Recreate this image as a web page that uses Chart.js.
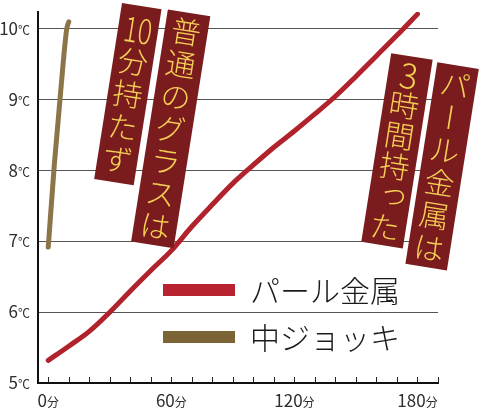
<!DOCTYPE html>
<html lang="ja">
<head>
<meta charset="utf-8">
<title>ビールの温度</title>
<script src="https://cdn.jsdelivr.net/npm/chart.js@4/dist/chart.umd.min.js"></script>
<style>
  html, body { margin: 0; padding: 0; background: #fff; }
  #chart { display: block; }
</style>
</head>
<body>
<canvas id="chart" width="500" height="417"></canvas>
<script>
// values
var pearlMinutes = [0, 10, 20, 30, 40, 50, 60, 70, 80, 90, 100, 110, 120, 130, 140, 150, 160, 170, 180];
var pearlTemps = [5.32, 5.52, 5.73, 6.0, 6.3, 6.59, 6.87, 7.21, 7.52, 7.82, 8.08, 8.33, 8.56, 8.8, 9.05, 9.33, 9.62, 9.91, 10.21];
var jockeyMinutes = [0, 3, 6, 9, 10];
var jockeyTemps = [6.92, 8.1, 9.1, 10.0, 10.1];
var seriesNames = ["パール金属", "中ジョッキ"];

var tempTicks = [5, 6, 7, 8, 9, 10];
var minuteTicks = [0, 10, 20, 30, 40, 50, 60, 70, 80, 90, 100, 110, 120, 130, 140, 150, 160, 170, 180, 190];
var minuteLabels = [0, 60, 120, 180];

// vertical captions, one cell per entry
var noteCells = [
    ["10", "分", "持", "た", "ず"],
    ["普", "通", "の", "グ", "ラ", "ス", "は"],
    ["3", "時", "間", "持", "っ", "た"],
    ["パ", "ー", "ル", "金", "属", "は"]
];

var FONT = "'Noto Sans CJK JP', 'Noto Sans', sans-serif";

function toPoints(xs, ys) {
    return xs.map(function (x, i) { return { x: x, y: ys[i] }; });
}

function drawNumUnit(ctx, num, unit, x, y, align, numSize, unitSize) {
    ctx.font = numSize + "px " + FONT;
    var w1 = ctx.measureText(num).width;
    ctx.font = unitSize + "px " + FONT;
    var w2 = ctx.measureText(unit).width;
    var left = align == "right" ? x - w1 - w2 : x - (w1 + w2) / 2;
    ctx.textAlign = "left";
    ctx.textBaseline = "alphabetic";
    ctx.font = numSize + "px " + FONT;
    ctx.fillText(num, left, y);
    ctx.font = unitSize + "px " + FONT;
    ctx.fillText(unit, left + w1, y);
}

var extrasPlugin = {
    id: "extras",
    afterDatasetsDraw: function (chart, args, opts) {
        var ctx = chart.ctx;
        var xs = chart.scales.x, ys = chart.scales.y;
        var area = chart.chartArea;
        ctx.save();

        // inward ticks on the time axis
        ctx.strokeStyle = "#222";
        ctx.lineWidth = 1;
        minuteTicks.forEach(function (m) {
            var px = Math.round(xs.getPixelForValue(m)) + 0.5;
            ctx.beginPath();
            ctx.moveTo(px, area.bottom);
            ctx.lineTo(px, area.bottom - 6);
            ctx.stroke();
        });

        // axis labels with small units
        ctx.fillStyle = "#2e2e2e";
        minuteLabels.forEach(function (m) {
            drawNumUnit(ctx, String(m), "分", xs.getPixelForValue(m), area.bottom + 24, "center", 17, 12);
        });
        tempTicks.forEach(function (t) {
            drawNumUnit(ctx, String(t), "℃", 30, ys.getPixelForValue(t) + 6, "right", 17, 12);
        });

        // caption boxes
        opts.notes.forEach(function (n, k) {
            var cells = noteCells[k];
            var cx = xs.getPixelForValue(n.x), cy = ys.getPixelForValue(n.y);
            ctx.save();
            ctx.translate(cx, cy);
            ctx.rotate(opts.angle * Math.PI / 180);
            ctx.fillStyle = opts.boxColor;
            ctx.fillRect(-n.w / 2, -n.h / 2, n.w, n.h);
            var step = Math.min(33, (n.h - 6) / cells.length);
            var top = -step * cells.length / 2;
            ctx.fillStyle = opts.textColor;
            ctx.textAlign = "center";
            ctx.textBaseline = "middle";
            cells.forEach(function (c, i) {
                var y = top + step * (i + 0.5);
                if (/^[0-9]+$/.test(c)) {
                    // digits set upright in one cell
                    ctx.save();
                    ctx.translate(0, y);
                    ctx.scale(c.length > 1 ? 0.78 : 1, 1);
                    ctx.font = "300 34px " + FONT;
                    ctx.fillText(c, 0, 1);
                    ctx.restore();
                    return;
                }
                ctx.font = "300 30px " + FONT;
                if (c == "ー") {
                    ctx.save();
                    ctx.translate(0, y);
                    ctx.rotate(Math.PI / 2);
                    ctx.fillText(c, 0, 0);
                    ctx.restore();
                } else if (c == "っ") {
                    ctx.fillText(c, 4, y - 4);
                } else {
                    ctx.fillText(c, 0, y);
                }
            });
            ctx.restore();
        });

        // legend
        chart.data.datasets.forEach(function (ds, i) {
            var y = opts.legendTop + i * opts.legendGap;
            ctx.fillStyle = opts.legendColors[i];
            ctx.fillRect(opts.legendX, y - 6, 72, 12);
            ctx.fillStyle = "#1a1a1a";
            ctx.font = "300 30px " + FONT;
            ctx.textAlign = "left";
            ctx.textBaseline = "middle";
            ctx.fillText(ds.label, opts.legendX + 87, y + 1);
        });

        ctx.restore();
    }
};

var chart = new Chart("chart", {
    type: "line",
    data: {
        datasets: [
            {
                label: seriesNames[0],
                data: toPoints(pearlMinutes, pearlTemps),
                borderColor: "#b1232c",
                borderWidth: 5,
                borderCapStyle: "round",
                borderJoinStyle: "round",
                pointRadius: 0,
                cubicInterpolationMode: "monotone"
            },
            {
                label: seriesNames[1],
                data: toPoints(jockeyMinutes, jockeyTemps),
                borderColor: "#8c7649",
                borderWidth: 5,
                borderCapStyle: "round",
                borderJoinStyle: "round",
                pointRadius: 0,
                cubicInterpolationMode: "monotone"
            }
        ]
    },
    options: {
        responsive: false,
        animation: false,
        devicePixelRatio: 1,
        layout: { padding: { top: 12, right: 62, left: 0, bottom: 0 }, autoPadding: false },
        plugins: {
            legend: { display: false },
            tooltip: { enabled: false },
            extras: {
                angle: 9,
                boxColor: "#7a1c1e",
                textColor: "#f6cf55",
                notes: [
                    { x: 38.8, y: 9.08, w: 40, h: 178 },
                    { x: 59.7, y: 8.59, w: 43, h: 235 },
                    { x: 170, y: 8.28, w: 42, h: 191 },
                    { x: 192, y: 8.06, w: 42, h: 204 }
                ],
                legendX: 163,
                legendTop: 290,
                legendGap: 47,
                legendColors: ["#b7242f", "#7d6436"]
            }
        },
        scales: {
            x: {
                type: "linear",
                min: -5,
                max: 190,
                afterBuildTicks: function (scale) {
                    scale.ticks = minuteTicks.map(function (v) { return { value: v }; });
                },
                afterFit: function (scale) { scale.height = 34; },
                grid: { display: false },
                border: { color: "#111", width: 2 },
                ticks: { display: false }
            },
            y: {
                min: 5,
                max: 10.24,
                afterBuildTicks: function (scale) {
                    scale.ticks = tempTicks.map(function (v) { return { value: v }; });
                },
                afterFit: function (scale) { scale.width = 38; },
                grid: { color: "#555", lineWidth: 1, drawTicks: false },
                border: { color: "#111", width: 2 },
                ticks: { display: false }
            }
        }
    },
    plugins: [extrasPlugin]
});
</script>
</body>
</html>
